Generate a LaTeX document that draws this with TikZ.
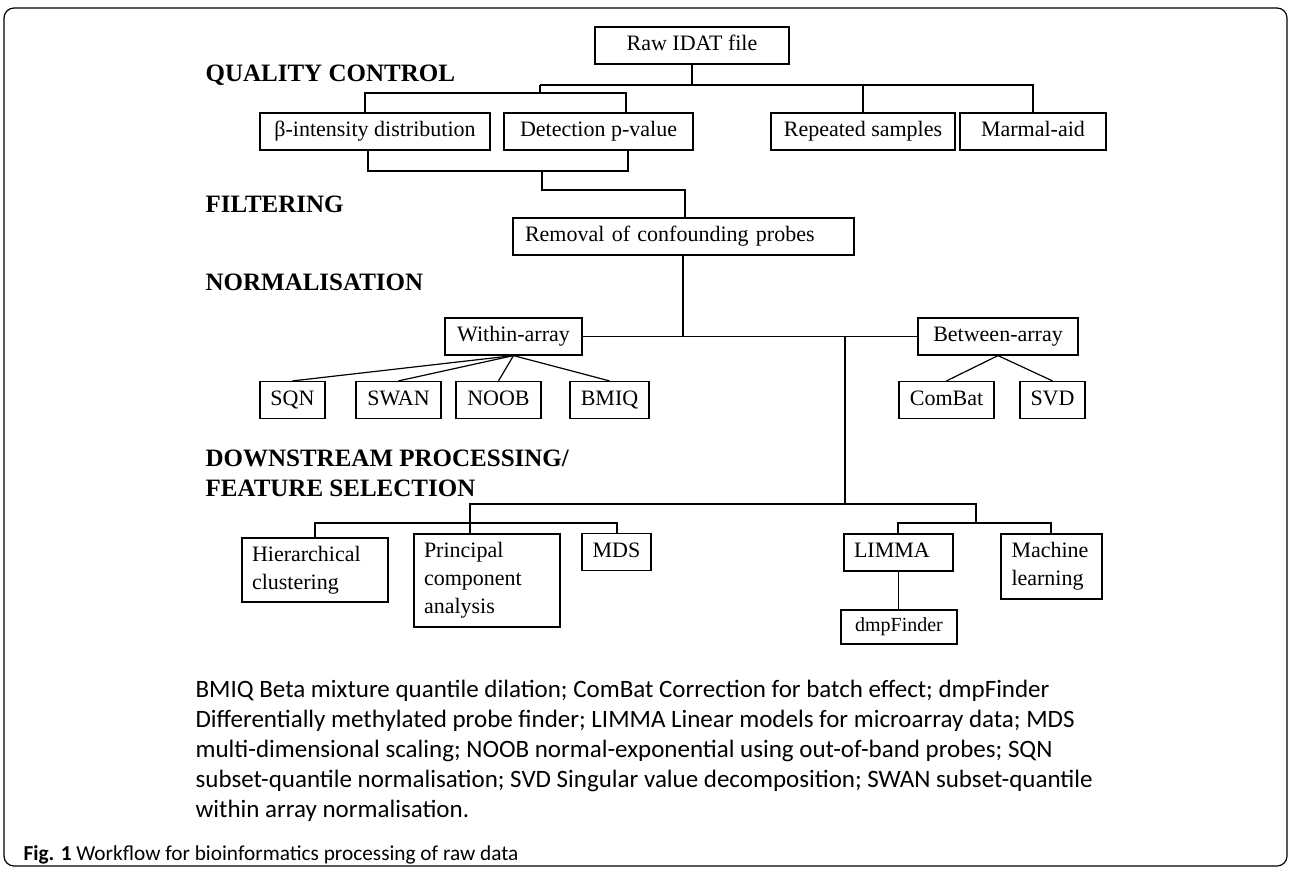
\documentclass[tikz,border=0pt]{standalone}
\usepackage{fontspec}
\setmainfont{Liberation Serif}
\newfontfamily\legendfont{Carlito}
\tikzset{
  box/.style={draw, inner sep=0pt, minimum height=37pt, text height=15.5pt, text depth=5pt, font=\fontsize{22}{28}\selectfont},
  leftbox/.style={draw, inner sep=0pt, minimum height=37pt, align=left, inner xsep=10pt, font=\fontsize{22}{28}\selectfont},
  stage/.style={anchor=base west, inner sep=0pt, font=\bfseries\fontsize{25}{30}\selectfont},
  legendline/.style={anchor=base west, inner sep=0pt, font=\legendfont\fontsize{25}{30}\selectfont},
}
\begin{document}
\begin{tikzpicture}[x=1pt, y=-1pt, line width=1.2pt]
    \useasboundingbox (0,0) rectangle (1292,869);
    \draw[rounded corners=10pt] (4,8) rectangle (1287,866);

    % stages
    \node[stage] (qc) at (205,82) {QUALITY CONTROL};
    \node[stage] (filt) at (205,212) {FILTERING};
    \node[stage] (norm) at (205,290) {NORMALISATION};
    \node[stage] (down) at (205,466) {DOWNSTREAM PROCESSING/};
    \node[stage] (feat) at (205,496) {FEATURE SELECTION};

    % quality control
    \node[box, minimum width=194] (raw) at (692,45.5) {Raw IDAT file};
    \node[box, minimum width=230] (beta) at (375,131.5) {β-intensity distribution};
    \node[box, minimum width=189] (detect) at (598.5,131.5) {Detection p-value};
    \node[box, minimum width=184] (repeat) at (863,131.5) {Repeated samples};
    \node[box, minimum width=146] (marmal) at (1033,131.5) {Marmal-aid};

    \coordinate (qcL) at (540,85); \coordinate (qcR) at (1033,85);
    \draw (raw.south) -- (raw.south |- qcL);
    \draw (qcL) -- (qcR) -- (marmal.north);
    \draw (repeat.north) -- (repeat.north |- qcL);

    \coordinate (bL) at (365,93); \coordinate (bR) at (626,93);
    \draw (qcL) -- (qcL |- bL);
    \draw (bL |- beta.north) -- (bL) -- (bR) -- (bR |- detect.north);

    % filtering
    \node[leftbox, text width=317, inner xsep=12pt, text height=15.5pt, text depth=5pt] (removal) at (683.5,236.5) {Removal of confounding probes};

    \coordinate (fL) at (368,171); \coordinate (fR) at (628,171);
    \coordinate (fM) at (542,171); \coordinate (fK) at (685,190);
    \draw (fL |- beta.south) -- (fL) -- (fR) -- (fR |- detect.south);
    \draw (fM) -- (fM |- fK) -- (fK) -- (fK |- removal.north);

    % normalisation
    \node[box, minimum width=137] (within) at (513.5,336.5) {Within-array};
    \node[box, minimum width=160] (between) at (998,336.5) {Between-array};
    \node[box, minimum width=65] (sqn) at (292.5,400) {SQN};
    \node[box, minimum width=85] (swan) at (398.5,400) {SWAN};
    \node[box, minimum width=85] (noob) at (498.5,400) {NOOB};
    \node[box, minimum width=79] (bmiq) at (609.5,400) {BMIQ};
    \node[box, minimum width=95] (combat) at (946.5,400) {ComBat};
    \node[box, minimum width=65] (svd) at (1052.5,400) {SVD};

    \coordinate (nJ) at (683,336.5);
    \draw (removal.south -| nJ) -- (nJ);
    \draw (within.east) -- (between.west);
    \foreach \k in {sqn,swan,noob,bmiq}
    {
      \draw (within.south) -- (\k.north);
    }
    \foreach \k in {combat,svd}
    {
      \draw (between.south) -- (\k.north);
    }

    % downstream processing
    \node[leftbox, text width=126, minimum height=64] (hier) at (315,570) {Hierarchical\\clustering};
    \node[leftbox, text width=126, minimum height=93] (pca) at (487,580.5) {Principal\\component\\analysis};
    \node[box, minimum width=69] (mds) at (616.5,552) {MDS};
    \node[leftbox, text width=89, text height=15.5pt, text depth=5pt] (limma) at (898.5,552.5) {LIMMA};
    \node[leftbox, text width=80, inner xsep=10.5pt, minimum height=65] (machine) at (1051.5,566.5) {Machine\\learning};
    \node[box, minimum width=116, minimum height=34, text height=14pt, text depth=4.5pt, font=\fontsize{20}{24}\selectfont] (dmp) at (899,627) {dmpFinder};

    \coordinate (dJ) at (845,336.5);
    \coordinate (dL) at (470,504); \coordinate (dR) at (976,504);
    \coordinate (sL1) at (315,523); \coordinate (sL2) at (617,523);
    \coordinate (sR1) at (898,523); \coordinate (sR2) at (1051,523);
    \draw (dJ) -- (dJ |- dL);
    \draw (dL |- pca.north) -- (dL) -- (dR) -- (dR |- sR1);
    \draw (hier.north) -- (hier.north |- sL1) -- (sL2) -- (sL2 |- mds.north);
    \draw (sR1 |- limma.north) -- (sR1) -- (sR2) -- (sR2 |- machine.north);
    \draw (limma.south) -- (limma.south |- dmp.north);

    % legend
    \foreach \txt [count=\i] in {
      {BMIQ Beta mixture quantile dilation; ComBat Correction for batch effect; dmpFinder},
      {Differentially methylated probe finder; LIMMA Linear models for microarray data; MDS},
      {multi-dimensional scaling; NOOB normal-exponential using out-of-band probes; SQN},
      {subset-quantile normalisation; SVD Singular value decomposition; SWAN subset-quantile},
      {within array normalisation.}}
    {
      \node[legendline] (leg\i) at (195,667+30*\i) {\txt};
    }
    \node[legendline, font=\legendfont\fontsize{21.3}{26}\selectfont] (caption) at (23,860) {\textbf{Fig. 1} Workflow for bioinformatics processing of raw data};
\end{tikzpicture}
\end{document}
